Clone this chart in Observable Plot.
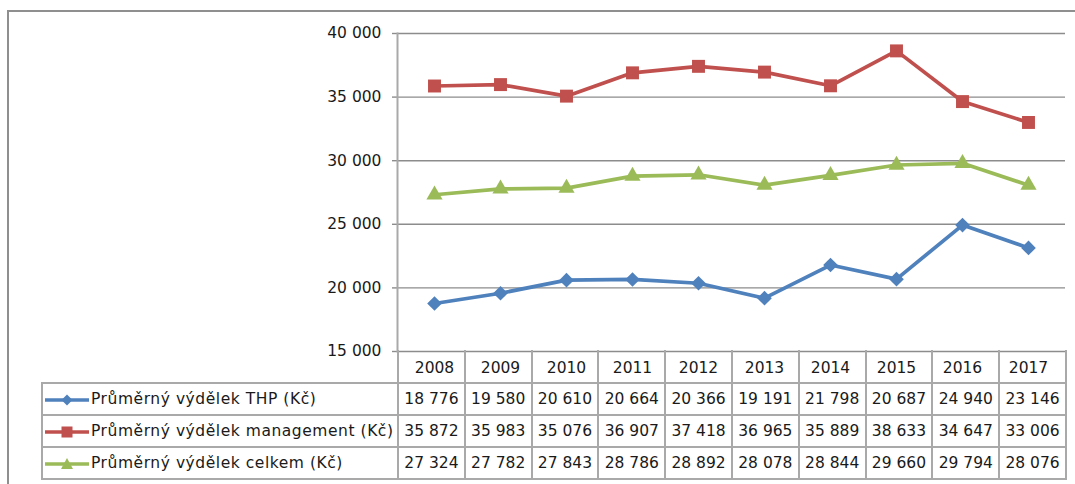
<!DOCTYPE html>
<html><head><meta charset="utf-8">
<script src="https://cdn.jsdelivr.net/npm/d3@7"></script>
<script src="https://cdn.jsdelivr.net/npm/@observablehq/plot@0.6"></script>
<style>
html,body{margin:0;padding:0;background:#fff;}
#wrap{position:relative;width:1075px;height:484px;overflow:hidden;font-family:"DejaVu Sans",sans-serif;}
#frame{position:absolute;left:7px;top:10px;width:1100px;height:500px;border-top:2px solid #8f8f8f;border-left:2px solid #8f8f8f;}
#chart{position:absolute;left:0;top:0;}
#tbl{position:absolute;left:41px;top:350px;border-collapse:collapse;table-layout:fixed;font-size:15.5px;color:#1a1a1a;width:1024px;}
#tbl td{border:2px solid #a9a9a9;height:30px;padding:0;text-align:center;white-space:nowrap;background:transparent;}
#tbl td.lab{text-align:left;letter-spacing:0.55px;}
#tbl td.lab svg{vertical-align:middle;margin-left:1px;margin-right:1px;}
#tbl tr.head td.blank{border-top:none;border-left:none;}
#tbl tr.head td{border-top:none;height:32px;}
</style></head>
<body>
<div id="wrap">
  <div id="frame"></div>
  <div id="chart"></div>
  <table id="tbl"></table>
</div>
<script>
const years = ["2008","2009","2010","2011","2012","2013","2014","2015","2016","2017"];
const thp = [18776,19580,20610,20664,20366,19191,21798,20687,24940,23146];
const management = [35872,35983,35076,36907,37418,36965,35889,38633,34647,33006];
const celkem = [27324,27782,27843,28786,28892,28078,28844,29660,29794,28076];
const seriesNames = ["Průměrný výdělek THP (Kč)","Průměrný výdělek management (Kč)","Průměrný výdělek celkem (Kč)"];
const seriesColors = ["#4F81BD","#C0504D","#9BBB59"];
const seriesSymbols = ["diamond2","square","triangle"];
const yTicks = [15000,20000,25000,30000,35000,40000];

const seriesValues = [thp, management, celkem];
const fmt = d3.formatLocale({decimal:",", thousands:"\u00a0", grouping:[3], currency:["",""]}).format(",");

const rows = [];
seriesNames.forEach((s, k) => years.forEach((yr, i) => rows.push({year: yr, series: s, value: seriesValues[k][i]})));

const symbolR = {"diamond2": 6.6, "square": 7.3, "triangle": 6.0};

const chart = Plot.plot({
  width: 1075, height: 383,
  marginLeft: 397, marginRight: 10, marginTop: 33, marginBottom: 32,
  style: {fontFamily: "'DejaVu Sans', sans-serif", fontSize: "15.5px", color: "#1a1a1a", background: "transparent", overflow: "visible"},
  x: {type: "point", domain: years, padding: 0.5, axis: null},
  y: {domain: [15000, 40000], axis: null},
  color: {domain: seriesNames, range: seriesColors},
  symbol: {domain: seriesNames, range: seriesSymbols},
  marks: [
    Plot.gridY(yTicks, {stroke: "#8c8c8c", strokeOpacity: 1, strokeWidth: 1.4}),
    Plot.axisY(yTicks, {tickSize: 5, tickPadding: 11, tickFormat: fmt, stroke: "#8c8c8c", strokeWidth: 1.4, label: null}),
    Plot.axisX(years, {tickSize: 0, tickPadding: 10, label: null}),
    Plot.frame({anchor: "left", stroke: "#a9a9a9", strokeWidth: 2}),
    Plot.line(rows, {x: "year", y: "value", z: "series", stroke: "series", strokeWidth: 3.7, curve: "linear"}),
    ...seriesNames.map((s, k) => Plot.dot(rows.filter(d => d.series === s), {x: "year", y: "value", symbol: "series", fill: "series", stroke: "none", r: symbolR[seriesSymbols[k]]}))
  ]
});
document.getElementById("chart").appendChild(chart);

// data table
const tbl = document.getElementById("tbl");
const colgroup = document.createElement("colgroup");
const c0 = document.createElement("col"); c0.style.width = "356px"; colgroup.appendChild(c0);
years.forEach(() => { const c = document.createElement("col"); c.style.width = "66.8px"; colgroup.appendChild(c); });
tbl.appendChild(colgroup);

const head = document.createElement("tr"); head.className = "head";
const hb = document.createElement("td"); hb.className = "blank"; head.appendChild(hb);
years.forEach(() => { const td = document.createElement("td"); head.appendChild(td); });
tbl.appendChild(head);

function swatch(k) {
  const c = seriesColors[k];
  let m = "";
  if (seriesSymbols[k] === "diamond2") m = `<polygon points="23,2.5 28.5,8 23,13.5 17.5,8" fill="${c}"/>`;
  else if (seriesSymbols[k] === "square") m = `<rect x="17.5" y="2.5" width="11" height="11" fill="${c}"/>`;
  else m = `<polygon points="23,2 29,13 17,13" fill="${c}"/>`;
  return `<svg width="46" height="16"><line x1="1" y1="8" x2="45" y2="8" stroke="${c}" stroke-width="3.5"/>${m}</svg>`;
}

seriesNames.forEach((s, k) => {
  const tr = document.createElement("tr");
  const lab = document.createElement("td"); lab.className = "lab";
  lab.innerHTML = swatch(k) + "<span></span>";
  lab.querySelector("span").textContent = s;
  tr.appendChild(lab);
  seriesValues[k].forEach(v => { const td = document.createElement("td"); td.textContent = fmt(v); tr.appendChild(td); });
  tbl.appendChild(tr);
});
</script>
</body></html>
